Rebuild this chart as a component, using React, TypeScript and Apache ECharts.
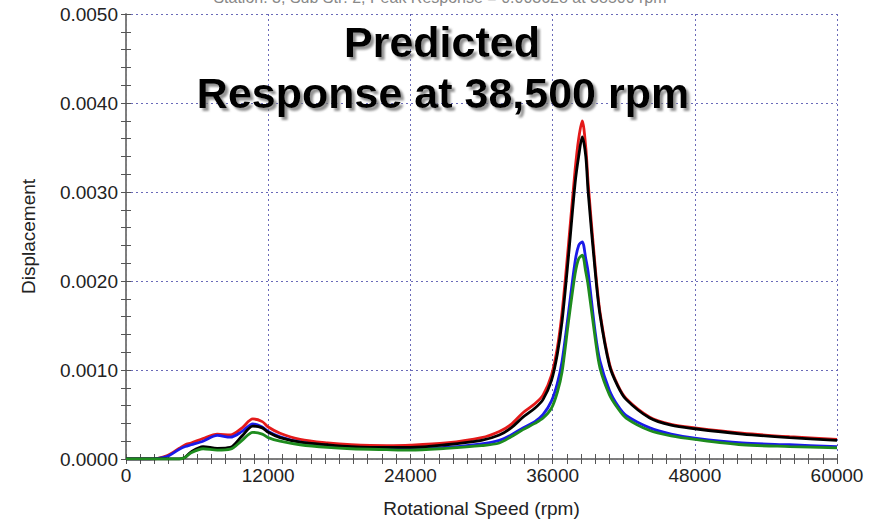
import React, { useEffect, useRef } from "react";
import * as echarts from "echarts";

const rpm = [0, 2000, 2600, 3500, 4500, 5000, 5500, 6500, 7700, 8800, 9800, 10700, 11500, 12000, 13000, 14700, 17000, 19000, 22000, 24000, 27000, 30000, 31500, 32500, 33500, 34500, 35200, 35900, 36400, 36800, 37300, 37900, 38200, 38500, 38800, 39000, 39600, 40000, 40800, 41500, 42200, 44200, 46000, 48000, 52000, 56000, 60000];

const red = [0, 0, 0.000005, 0.00004, 0.00012, 0.00016, 0.00018, 0.00023, 0.00028, 0.00027, 0.00035, 0.00045, 0.00042, 0.00036, 0.00029, 0.00022, 0.00018, 0.00016, 0.00015, 0.000155, 0.00018, 0.00024, 0.00031, 0.00039, 0.00052, 0.00062, 0.00072, 0.00094, 0.00125, 0.00165, 0.00235, 0.00325, 0.0036, 0.0038, 0.0035, 0.0031, 0.00215, 0.00165, 0.00107, 0.00083, 0.00068, 0.00047, 0.00039, 0.00035, 0.00029, 0.00025, 0.00022];

const black = [0, 0, 0, 0, 0, 0.00002, 0.00008, 0.00014, 0.00012, 0.00013, 0.00026, 0.00037, 0.00035, 0.0003, 0.00024, 0.00019, 0.00016, 0.00014, 0.00013, 0.00013, 0.00016, 0.00021, 0.00027, 0.00035, 0.00047, 0.00057, 0.00067, 0.00088, 0.00118, 0.00155, 0.00222, 0.0031, 0.0034, 0.00362, 0.0034, 0.003, 0.0021, 0.00162, 0.00105, 0.00082, 0.00067, 0.00046, 0.00038, 0.00034, 0.00028, 0.00024, 0.00021];

const blue = [0, 0, 0.000005, 0.00003, 0.00011, 0.00014, 0.00016, 0.0002, 0.000265, 0.000245, 0.00031, 0.000395, 0.00036, 0.00031, 0.00025, 0.00019, 0.00015, 0.00013, 0.00012, 0.000115, 0.00013, 0.00017, 0.00021, 0.00027, 0.00035, 0.00042, 0.0005, 0.00065, 0.00085, 0.0011, 0.0016, 0.00222, 0.0024, 0.00244, 0.00225, 0.0021, 0.00142, 0.0011, 0.00077, 0.0006, 0.00049, 0.00035, 0.00028, 0.000235, 0.00018, 0.00016, 0.00014];

const green = [0, 0, 0, 0, 0, 0.00002, 0.00007, 0.000115, 0.0001, 0.00011, 0.00021, 0.0003, 0.00028, 0.00024, 0.0002, 0.00016, 0.00013, 0.000115, 0.000105, 0.0001, 0.00012, 0.00015, 0.00018, 0.00025, 0.00033, 0.0004, 0.00046, 0.00057, 0.00075, 0.00098, 0.0015, 0.00208, 0.00225, 0.00229, 0.0021, 0.00195, 0.00135, 0.00102, 0.00072, 0.00057, 0.00046, 0.00032, 0.00026, 0.00022, 0.00016, 0.00014, 0.000125];

const xTicks = [0, 12000, 24000, 36000, 48000, 60000];
const yTicks = [0, 0.001, 0.002, 0.003, 0.004, 0.005];

const FONT = "Liberation Sans, Arial, sans-serif";

function pairs(vals: number[]) {
  return rpm.map((r, i) => [r, vals[i]]);
}

export default function App() {
  const ref = useRef<HTMLDivElement>(null);
  useEffect(() => {
    document.body.style.margin = "0";
    const chart = echarts.init(ref.current!, null, { renderer: "svg" });
    const axisLine = { show: true, lineStyle: { color: "#777", width: 1.5 } };
    const tick = { show: true, inside: true, length: 5, lineStyle: { color: "#555" } };
    const minorTick = { show: true, inside: true, length: 5, lineStyle: { color: "#555" } };
    const split = { show: true, lineStyle: { color: "#6a6ab8", type: [2, 3], width: 1 } };
    const mkSeries = (name: string, vals: number[], color: string) => ({
      name,
      type: "line",
      data: pairs(vals),
      showSymbol: false,
      smooth: 0.3,
      lineStyle: { color, width: 2.8 },
      itemStyle: { color },
      z: 3,
    });
    const shadowText = (text: string, x: number, y: number) => ({
      type: "text",
      x,
      y,
      z: 10,
      style: {
        text,
        fontFamily: FONT,
        fontWeight: "bold",
        fontSize: 43,
        fill: "#000",
        align: "center",
        verticalAlign: "middle",
        textShadowColor: "rgba(120,120,120,0.8)",
        textShadowOffsetX: 3,
        textShadowOffsetY: 3,
        textShadowBlur: 2,
      },
    });
    chart.setOption({
      animation: false,
      backgroundColor: "#fff",
      grid: { left: 126, right: 43, top: 14, bottom: 62 },
      xAxis: [
        {
          type: "value",
          min: xTicks[0],
          max: xTicks[xTicks.length - 1],
          interval: xTicks[1] - xTicks[0],
          name: "Rotational Speed (rpm)",
          nameLocation: "middle",
          nameGap: 40,
          nameTextStyle: { fontFamily: FONT, fontSize: 19, color: "#222" },
          axisLine,
          axisTick: tick,
          minorTick: { ...minorTick, splitNumber: 10 },
          splitLine: split,
          axisLabel: {
            fontFamily: FONT,
            fontSize: 19,
            color: "#222",
            margin: 7,
            formatter: (v: number) => String(v),
          },
        },
        {
          type: "value",
          position: "top",
          min: xTicks[0],
          max: xTicks[xTicks.length - 1],
          interval: xTicks[1] - xTicks[0],
          axisLine,
          axisTick: tick,
          minorTick: { ...minorTick, splitNumber: 10 },
          splitLine: { show: false },
          axisLabel: { show: false },
        },
      ],
      yAxis: [
        {
          type: "value",
          min: yTicks[0],
          max: yTicks[yTicks.length - 1],
          interval: yTicks[1] - yTicks[0],
          name: "Displacement",
          nameLocation: "middle",
          nameGap: 88,
          nameTextStyle: { fontFamily: FONT, fontSize: 19, color: "#222" },
          axisLine,
          axisTick: tick,
          minorTick: { ...minorTick, splitNumber: 5 },
          splitLine: split,
          axisLabel: {
            fontFamily: FONT,
            fontSize: 19,
            color: "#222",
            margin: 8,
            formatter: (v: number) => v.toFixed(4),
          },
        },
        {
          type: "value",
          position: "right",
          min: yTicks[0],
          max: yTicks[yTicks.length - 1],
          interval: yTicks[1] - yTicks[0],
          axisLine,
          axisTick: tick,
          minorTick: { ...minorTick, splitNumber: 5 },
          splitLine: { show: false },
          axisLabel: { show: false },
        },
      ],
      series: [
        mkSeries("Red", red, "#e41a1a"),
        mkSeries("Blue", blue, "#1a1ae8"),
        mkSeries("Black", black, "#000000"),
        mkSeries("Green", green, "#1e8c1e"),
      ],
      graphic: [
        {
          type: "text",
          left: "center",
          top: -11,
          style: {
            text: "Station: 3, Sub Str: 2, Peak Response = 0.003628 at 38500 rpm",
            fontFamily: FONT,
            fontSize: 16,
            fill: "#888",
          },
        },
        shadowText("Predicted", 442, 42),
        shadowText("Response at 38,500 rpm", 443, 93),
      ],
    });
    return () => chart.dispose();
  }, []);
  return <div ref={ref} style={{ width: 880, height: 523 }} />;
}
